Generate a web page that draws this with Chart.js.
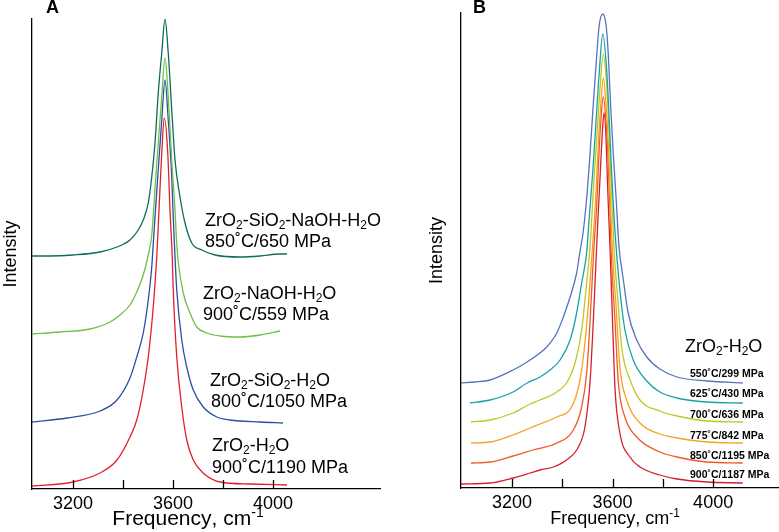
<!DOCTYPE html>
<html>
<head>
<meta charset="utf-8">
<script src="https://cdn.jsdelivr.net/npm/chart.js@4.4.1/dist/chart.umd.min.js"></script>
<style>
  html, body { margin: 0; padding: 0; background: #fff; }
  #wrap { position: relative; width: 779px; height: 532px; overflow: hidden; }
  #chartA { position: absolute; left: 0; top: 0; }
  #chartB { position: absolute; left: 390px; top: 0; }
</style>
</head>
<body>
<div id="wrap">
  <canvas id="chartA" width="390" height="532"></canvas>
  <canvas id="chartB" width="389" height="532"></canvas>
</div>
<script>
// ---- data (frequency cm-1, intensity arb. units) ----
const xTickValues = [3200, 3400, 3600, 3800, 4000];
const xTickLabels = ['3200', '', '3600', '', '4000'];

// Panel A
const freqA1 = [3036, 3108, 3200, 3308, 3376, 3428, 3461, 3481, 3501, 3515, 3528, 3541, 3555, 3568, 3581, 3595, 3608, 3628, 3648, 3675, 3715, 3768, 3868, 3948, 4028, 4056];
const intA1  = [233, 233, 234, 237, 242, 249, 259, 269, 286, 312, 346, 396, 436, 470, 436, 379, 329, 292, 266, 246, 239, 234, 232, 233, 235, 235];
const freqA2 = [3036, 3148, 3268, 3348, 3388, 3428, 3455, 3481, 3501, 3515, 3528, 3541, 3555, 3568, 3581, 3595, 3608, 3614, 3621, 3641, 3668, 3695, 3735, 3788, 3868, 3948, 4028];
const intA2  = [155, 157, 160, 167, 174, 184, 197, 214, 234, 254, 300, 346, 392, 431, 392, 329, 279, 249, 227, 196, 176, 162, 156, 153, 152, 154, 158];
const freqA3 = [3036, 3176, 3308, 3376, 3428, 3455, 3481, 3501, 3515, 3521, 3528, 3541, 3555, 3568, 3581, 3595, 3601, 3608, 3615, 3635, 3655, 3681, 3721, 3775, 3828, 3948, 4040];
const intA3  = [67, 71, 78, 89, 111, 132, 156, 189, 222, 245, 272, 319, 369, 409, 369, 312, 272, 232, 199, 149, 122, 99, 82, 72, 69, 67, 66];
const freqA4 = [3036, 3200, 3308, 3376, 3428, 3455, 3481, 3501, 3521, 3535, 3544, 3555, 3565, 3579, 3588, 3597, 3601, 3615, 3635, 3655, 3681, 3721, 3788, 3908, 4056];
const intA4  = [3, 7, 16, 29, 52, 69, 99, 132, 182, 232, 279, 336, 371, 336, 279, 232, 199, 132, 82, 49, 29, 16, 7, 5, 4];

// Panel B
const freqB1 = [2997, 3053, 3113, 3204, 3260, 3311, 3338, 3378, 3404, 3431, 3457, 3470, 3483, 3497, 3510, 3523, 3537, 3547, 3561, 3574, 3583, 3592, 3603, 3614, 3625, 3643, 3662, 3696, 3736, 3788, 3856, 3975, 4118];
const intB1  = [105, 106, 108, 118, 126, 135, 141, 155, 171, 191, 215, 236, 256, 290, 333, 383, 433, 463, 474, 463, 433, 383, 333, 290, 243, 208, 175, 148, 131, 119, 111, 107, 105];
const freqB2 = [3033, 3113, 3204, 3260, 3311, 3351, 3391, 3431, 3457, 3477, 3497, 3507, 3521, 3534, 3547, 3561, 3577, 3587, 3596, 3606, 3615, 3629, 3649, 3682, 3736, 3788, 3856, 3975, 4118];
const intB2  = [85, 88, 96, 105, 111, 118, 128, 148, 175, 205, 236, 270, 316, 366, 416, 454, 416, 366, 316, 270, 238, 198, 158, 128, 107, 96, 90, 86, 85];
const freqB3 = [3037, 3113, 3204, 3272, 3311, 3378, 3424, 3457, 3477, 3494, 3510, 3523, 3537, 3550, 3563, 3577, 3587, 3596, 3606, 3621, 3636, 3670, 3709, 3788, 3856, 3975, 4118];
const intB3  = [66, 68, 75, 84, 88, 96, 108, 131, 158, 198, 240, 296, 350, 400, 434, 400, 350, 296, 238, 188, 141, 108, 88, 77, 72, 67, 66];
const freqB4 = [3037, 3113, 3204, 3272, 3311, 3378, 3437, 3468, 3487, 3503, 3520, 3534, 3543, 3553, 3563, 3574, 3583, 3590, 3599, 3614, 3629, 3656, 3709, 3788, 3856, 3975, 4118];
const intB4  = [45, 46, 53, 60, 64, 71, 81, 105, 138, 181, 240, 296, 343, 383, 410, 383, 343, 296, 238, 181, 121, 88, 65, 54, 50, 46, 45];
const freqB5 = [3037, 3113, 3204, 3283, 3378, 3444, 3477, 3497, 3510, 3526, 3537, 3545, 3553, 3563, 3574, 3582, 3589, 3594, 3610, 3623, 3649, 3696, 3788, 3856, 3975, 4118];
const intB5  = [25, 26, 32, 38, 45, 58, 81, 115, 165, 242, 283, 330, 366, 391, 366, 330, 283, 238, 165, 105, 71, 51, 36, 31, 26, 25];
const freqB6 = [2997, 3113, 3204, 3272, 3311, 3364, 3417, 3464, 3490, 3510, 3523, 3536, 3542, 3550, 3558, 3566, 3574, 3579, 3585, 3590, 3600, 3610, 3629, 3669, 3709, 3788, 3856, 3975, 4118];
const intB6  = [4, 5, 10, 15, 18, 21, 28, 41, 61, 105, 165, 238, 270, 310, 350, 375, 350, 310, 270, 238, 165, 98, 55, 31, 21, 13, 9, 6, 5];

const FONT = "'Liberation Sans', Arial, 'DejaVu Sans', sans-serif";

function pts(xs, ys) {
  return xs.map((x, i) => ({ x: x, y: ys[i] }));
}

function series(xs, ys, color) {
  return {
    data: pts(xs, ys),
    borderColor: color,
    borderWidth: 1.3,
    pointRadius: 0,
    fill: false,
    cubicInterpolationMode: 'monotone'
  };
}

// "_x" -> subscript x, "^xy" -> superscript until end
function richParts(str) {
  const parts = [];
  for (let i = 0; i < str.length; i++) {
    const ch = str[i];
    if (ch === '_') { parts.push({ t: str[++i], k: 'sub' }); }
    else if (ch === '^') { parts.push({ t: str.slice(i + 1), k: 'sup' }); break; }
    else { parts.push({ t: ch, k: 'n' }); }
  }
  return parts;
}

function drawRich(ctx, str, x, y, size, weight, align) {
  const parts = richParts(str);
  const fontFor = k => weight + ' ' + (k === 'n' ? size : Math.round(size * 0.66)) + 'px ' + FONT;
  let total = 0;
  parts.forEach(p => { ctx.font = fontFor(p.k); p.w = ctx.measureText(p.t).width; total += p.w; });
  let cx = align === 'center' ? x - total / 2 : x;
  parts.forEach(p => {
    ctx.font = fontFor(p.k);
    const dy = p.k === 'sub' ? size * 0.18 : (p.k === 'sup' ? -size * 0.4 : 0);
    ctx.fillText(p.t, cx, y + dy);
    cx += p.w;
  });
}

// inward tick marks on the x axis + text annotations
function annotations(texts) {
  return {
    id: 'annot',
    afterDraw(chart) {
      const ctx = chart.ctx;
      const xs = chart.scales.x;
      const bottom = chart.chartArea.bottom;
      ctx.save();
      ctx.strokeStyle = '#000';
      ctx.lineWidth = 1.3;
      xTickValues.forEach(v => {
        const px = Math.round(xs.getPixelForValue(v)) + 0.5;
        ctx.beginPath();
        ctx.moveTo(px, bottom);
        ctx.lineTo(px, bottom - 9);
        ctx.stroke();
      });
      ctx.fillStyle = '#000';
      ctx.textBaseline = 'alphabetic';
      ctx.textAlign = 'left';
      texts.forEach(t => drawRich(ctx, t[0], t[1], t[2], t[3], t[4] || 'normal', t[5] || 'left'));
      ctx.restore();
    }
  };
}

function makeOptions(xmin, xmax, ymax, padding, yWidth, xHeight, tickSize) {
  return {
    responsive: false,
    animation: false,
    devicePixelRatio: 1,
    layout: { padding: padding },
    plugins: { legend: { display: false }, tooltip: { enabled: false } },
    scales: {
      x: {
        type: 'linear',
        min: xmin,
        max: xmax,
        afterBuildTicks: s => { s.ticks = xTickValues.map(v => ({ value: v })); },
        afterFit: s => { s.height = xHeight; },
        ticks: {
          autoSkip: false,
          maxRotation: 0,
          padding: 4,
          color: '#000',
          font: { family: FONT, size: tickSize },
          callback: v => xTickLabels[xTickValues.indexOf(v)]
        },
        grid: { display: false, drawTicks: false, tickLength: 0 },
        border: { display: true, color: '#000', width: 1.3 }
      },
      y: {
        type: 'linear',
        min: 0,
        max: ymax,
        afterFit: s => { s.width = yWidth; },
        ticks: { display: false },
        grid: { display: false, drawTicks: false, tickLength: 0 },
        border: { display: true, color: '#000', width: 1.3 },
        title: {
          display: true,
          text: 'Intensity',
          color: '#000',
          padding: { top: 0, bottom: 0 },
          font: { family: FONT, size: 18 }
        }
      }
    }
  };
}

const textsA = [
  ['A', 46, 13, 18, 'bold'],
  ['Frequency, cm^-1', 188, 525, 21, 'normal', 'center'],
  ['ZrO_2-SiO_2-NaOH-H_2O', 205, 226, 18],
  ['850\u02DAC/650 MPa', 205, 247, 18],
  ['ZrO_2-NaOH-H_2O', 203, 299, 18],
  ['900\u02DAC/559 MPa', 203, 320, 18],
  ['ZrO_2-SiO_2-H_2O', 210, 386, 18],
  ['800\u02DAC/1050 MPa', 211, 407, 18],
  ['ZrO_2-H_2O', 212, 451, 18],
  ['900\u02DAC/1190 MPa', 212, 473, 18]
];

const textsB = [
  ['B', 83, 13, 18, 'bold'],
  ['Frequency, cm^-1', 225, 524, 18, 'normal', 'center'],
  ['ZrO_2-H_2O', 295, 352, 18],
  ['550\u02DAC/299 MPa', 300, 377, 10.5, 'bold'],
  ['625\u02DAC/430 MPa', 300, 397, 10.5, 'bold'],
  ['700\u02DAC/636 MPa', 300, 418, 10.5, 'bold'],
  ['775\u02DAC/842 MPa', 300, 439, 10.5, 'bold'],
  ['850\u02DAC/1195 MPa', 300, 459, 10.5, 'bold'],
  ['900\u02DAC/1187 MPa', 300, 478, 10.5, 'bold']
];

new Chart(document.getElementById('chartA').getContext('2d'), {
  type: 'line',
  data: {
    datasets: [
      series(freqA1, intA1, '#0d6b5e'),
      series(freqA2, intA2, '#6cc24a'),
      series(freqA3, intA3, '#2b4ea3'),
      series(freqA4, intA4, '#e0212b')
    ]
  },
  options: makeOptions(3036, 4428, 470, { top: 19, right: 10, left: 0, bottom: 0 }, 32, 43, 18),
  plugins: [annotations(textsA)]
});

new Chart(document.getElementById('chartB').getContext('2d'), {
  type: 'line',
  data: {
    datasets: [
      series(freqB1, intB1, '#5872c2'),
      series(freqB2, intB2, '#17a3a6'),
      series(freqB3, intB3, '#bfc822'),
      series(freqB4, intB4, '#f6a21e'),
      series(freqB5, intB5, '#f25a25'),
      series(freqB6, intB6, '#d41f2f')
    ]
  },
  options: makeOptions(2997, 4258, 475, { top: 13, right: 1, left: 36, bottom: 0 }, 35, 44, 18),
  plugins: [annotations(textsB)]
});
</script>
</body>
</html>
